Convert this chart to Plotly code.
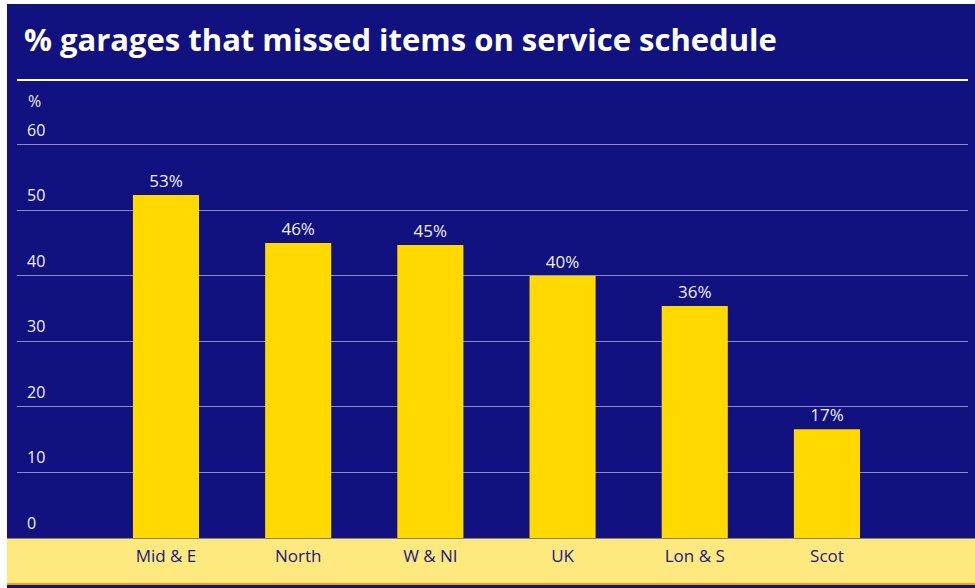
import plotly.graph_objects as go

categories = ["Mid &amp; E", "North", "W &amp; NI", "UK", "Lon &amp; S", "Scot"]
values = [52.3, 45.0, 44.7, 40.0, 35.4, 16.6]
value_labels = ["53%", "46%", "45%", "40%", "36%", "17%"]
y_ticks = [0, 10, 20, 30, 40, 50, 60]

NAVY = "#11127f"
BAR = "#ffd900"
BAND = "#fee97f"
TXT = "#eeeefa"
FONT = "Open Sans"

W, H = 975, 588
ML, MR, MT, MB = 17, 7, 79, 50
pw = W - ML - MR
ph = H - MT - MB

def px_x(p):
    return (p - ML) / pw

def px_y(p):
    return (H - MB - p) / ph

fig = go.Figure(go.Bar(
    x=list(range(len(categories))),
    y=values,
    marker=dict(color=BAR, line=dict(width=0)),
    text=value_labels,
    textposition="outside",
    textfont=dict(family=FONT, size=17, color=TXT),
    cliponaxis=False,
    hoverinfo="skip",
))

shapes = [
    dict(type="rect", xref="paper", yref="paper", x0=px_x(7), x1=px_x(976),
         y0=px_y(583), y1=px_y(538.5), fillcolor=BAND, line=dict(width=0), layer="below"),
    dict(type="rect", xref="paper", yref="paper", x0=px_x(7), x1=px_x(976),
         y0=px_y(585), y1=px_y(583), fillcolor="#f6a200", line=dict(width=0), layer="below"),
    dict(type="rect", xref="paper", yref="paper", x0=px_x(-1), x1=px_x(7),
         y0=px_y(589), y1=px_y(-1), fillcolor="white", line=dict(width=0), layer="above"),
    dict(type="rect", xref="paper", yref="paper", x0=px_x(-1), x1=px_x(976),
         y0=px_y(4), y1=px_y(-1), fillcolor="white", line=dict(width=0), layer="above"),
    dict(type="line", xref="paper", yref="paper", x0=0, x1=1,
         y0=px_y(80), y1=px_y(80), line=dict(color="white", width=2), layer="above"),
]

annotations = [
    dict(text="%", xref="paper", yref="paper", x=px_x(26), y=px_y(101),
         xanchor="left", yanchor="middle", showarrow=False,
         font=dict(family=FONT, size=16, color=TXT)),
]
for v in y_ticks:
    annotations.append(dict(
        text=str(v), xref="paper", yref="y", x=px_x(25), y=v, yshift=15,
        xanchor="left", yanchor="middle", showarrow=False,
        font=dict(family=FONT, size=16, color=TXT)))

fig.update_layout(
    width=W, height=H,
    margin=dict(l=ML, r=MR, t=MT, b=MB, pad=0),
    paper_bgcolor=NAVY,
    plot_bgcolor="rgba(0,0,0,0)",
    bargap=0.5,
    showlegend=False,
    title=dict(
        text="<b>% garages that missed items on service schedule</b>",
        font=dict(family=FONT, size=31, color="white"),
        xref="container", yref="container",
        x=24 / W, xanchor="left", y=1 - 40 / H, yanchor="middle",
    ),
    xaxis=dict(
        range=[-1.127, 6.067],
        tickmode="array",
        tickvals=list(range(len(categories))),
        ticktext=categories,
        ticks="", showgrid=False, zeroline=False, showline=False,
        tickfont=dict(family=FONT, size=17, color="#1a1a80"),
        ticklabelstandoff=6,
    ),
    yaxis=dict(
        range=[0, 70],
        tickmode="array",
        tickvals=y_ticks,
        showticklabels=False,
        ticks="",
        showgrid=True, gridcolor="#8a8ac8", gridwidth=1,
        zeroline=False, showline=False,
    ),
    shapes=shapes,
    annotations=annotations,
)

fig.write_html(
    "out.html",
    config={"displayModeBar": False},
    post_script="document.body.style.margin='0';document.body.style.overflow='hidden';",
)
